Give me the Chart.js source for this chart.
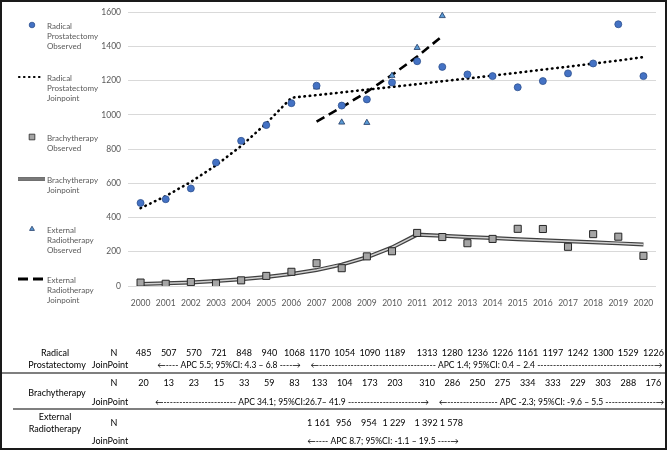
<!DOCTYPE html>
<html>
<head>
<meta charset="utf-8">
<script src="https://cdn.jsdelivr.net/npm/chart.js@4.4.1/dist/chart.umd.min.js"></script>
<style>
  html, body { margin: 0; padding: 0; background: #fff; }
  #wrap { width: 670px; height: 451px; position: relative; }
</style>
</head>
<body>
<div id="wrap"><canvas id="chart" width="670" height="451"></canvas></div>
<script>
// ---- data ----
const years = ['2000','2001','2002','2003','2004','2005','2006','2007','2008','2009','2010',
               '2011','2012','2013','2014','2015','2016','2017','2018','2019','2020'];
const yTicks = [0, 200, 400, 600, 800, 1000, 1200, 1400, 1600];

const rpObserved  = [485, 507, 570, 721, 848, 940, 1068, 1170, 1054, 1090, 1189, 1313, 1280, 1236, 1226, 1161, 1197, 1242, 1300, 1529, 1226];
const rpJoinpoint = [455, 525, 608, 705, 818, 950, 1100, 1115, 1131, 1147, 1163, 1179, 1196, 1212, 1229, 1246, 1264, 1281, 1299, 1317, 1337];
const brObserved  = [20, 13, 23, 15, 33, 59, 83, 133, 104, 173, 203, 310, 286, 250, 275, 334, 333, 229, 303, 288, 176];
const brJoinpoint = [12, 16, 21, 29, 39, 52, 70, 93, 125, 168, 225, 300, 293, 286, 280, 273, 267, 261, 255, 249, 243];
const exObserved  = [null, null, null, null, null, null, null, 1161, 956, 954, 1229, 1392, 1578, null, null, null, null, null, null, null, null];
const exJoinpoint = [null, null, null, null, null, null, null, 960, 1044, 1134, 1233, 1340, 1460, null, null, null, null, null, null, null, null];

const legendNames = [
  ['Radical', 'Prostatectomy', 'Observed'],
  ['Radical', 'Prostatectomy', 'Joinpoint'],
  ['Brachytherapy', 'Observed'],
  ['Brachytherapy', 'Joinpoint'],
  ['External', 'Radiotherapy', 'Observed'],
  ['External', 'Radiotherapy', 'Joinpoint']
];
const groupNames = [['Radical', 'Prostatectomy'], ['Brachytherapy'], ['External', 'Radiotherapy']];
const rowNames = ['N', 'JoinPoint'];
const rpApc = ['APC 5.5; 95%CI: 4.3 \u2013 6.8', 'APC 1.4; 95%CI: 0.4 \u2013 2.4'];
const brApc = ['APC 34.1; 95%CI:26.7\u2013 41.9', 'APC -2.3; 95%CI: -9.6 \u2013 5.5'];
const exApc = ['APC 8.7; 95%CI: -1.1 \u2013 19.5'];

// ---- styling ----
const FONT = 'Lato, "Open Sans", sans-serif';
const GREY_TXT = '#595959';
const BLUE = '#4472C4', BLUE_EDGE = '#2F528F';
const TRI = '#5B9BD5', TRI_EDGE = '#1F3864';
const SQ = '#A5A5A5', SQ_EDGE = '#262626';

function fmtSpace(v) {
  const s = String(v);
  return s.length > 3 ? s.slice(0, s.length - 3) + ' ' + s.slice(-3) : s;
}

// hyphen-filled arrow label spanning x0..x1
function arrowText(ctx, label, x0, x1, y) {
  const total = x1 - x0;
  const core = ' ' + label + ' ';
  const wCore = ctx.measureText(core).width;
  const wArrow = ctx.measureText('\u2190').width;
  const wDash = ctx.measureText('-').width;
  const side = (total - wCore - 2 * wArrow) / 2;
  const n = Math.max(0, Math.round(side / wDash));
  const str = '\u2190' + '-'.repeat(n) + core + '-'.repeat(n) + '\u2192';
  ctx.textAlign = 'center';
  ctx.fillText(str, (x0 + x1) / 2, y);
}

const extrasPlugin = {
  id: 'extras',
  afterDraw(chart) {
    const ctx = chart.ctx;
    const xs = chart.scales.x;
    ctx.save();

    // outer frame
    ctx.strokeStyle = '#1a1a1a';
    ctx.lineWidth = 2;
    ctx.strokeRect(1, 1, 665, 448);

    // ---- legend on the left ----
    const legY = [25, 77, 137, 179, 229, 279];
    ctx.font = '8px ' + FONT;
    ctx.fillStyle = GREY_TXT;
    ctx.textAlign = 'left';
    ctx.textBaseline = 'middle';
    legendNames.forEach((lines, i) => {
      lines.forEach((t, k) => ctx.fillText(t, 47, legY[i] + 1 + k * 10));
    });
    // symbols
    const drawSym = (style, r, bg, edge, y) => {
      ctx.save();
      ctx.fillStyle = bg; ctx.strokeStyle = edge; ctx.lineWidth = 0.8;
      Chart.helpers.drawPoint(ctx, { pointStyle: style, radius: r, borderWidth: 0.8 }, 32, y);
      ctx.restore();
    };
    drawSym('circle', 2.8, BLUE, BLUE_EDGE, legY[0]);
    drawSym('rect', 4, SQ, SQ_EDGE, legY[2]);
    drawSym('triangle', 2.8, TRI, TRI_EDGE, legY[4]);
    ctx.save();
    ctx.lineCap = 'round';
    ctx.strokeStyle = '#000';
    ctx.lineWidth = 2.2;
    ctx.setLineDash([0.5, 4.5]);
    ctx.beginPath(); ctx.moveTo(19, legY[1]); ctx.lineTo(44, legY[1]); ctx.stroke();
    ctx.lineCap = 'butt';
    ctx.setLineDash([]);
    ctx.strokeStyle = '#404040'; ctx.lineWidth = 3.5;
    ctx.beginPath(); ctx.moveTo(18, legY[3]); ctx.lineTo(45, legY[3]); ctx.stroke();
    ctx.strokeStyle = '#8c8c8c'; ctx.lineWidth = 1.5;
    ctx.beginPath(); ctx.moveTo(18, legY[3]); ctx.lineTo(45, legY[3]); ctx.stroke();
    ctx.strokeStyle = '#000'; ctx.lineWidth = 3;
    ctx.setLineDash([10, 5]);
    ctx.beginPath(); ctx.moveTo(18, legY[5]); ctx.lineTo(44, legY[5]); ctx.stroke();
    ctx.restore();

    // ---- table below the chart ----
    const colX = i => xs.getPixelForValue(i) + (i >= 11 ? 10 : 3);
    ctx.fillStyle = '#000';
    ctx.font = '9px ' + FONT;
    ctx.textBaseline = 'middle';

    // group names
    ctx.textAlign = 'center';
    ctx.fillText(groupNames[0][0], 55, 353);
    ctx.fillText(groupNames[0][1], 57, 365);
    ctx.fillText(groupNames[1][0], 57, 393);
    ctx.fillText(groupNames[2][0], 55, 417);
    ctx.fillText(groupNames[2][1], 55, 429);

    // row names
    const rowY = [[353, 365], [383, 402], [423, 441]];
    rowY.forEach(([yn, yj]) => {
      ctx.textAlign = 'center';
      ctx.fillText(rowNames[0], 114, yn);
      ctx.fillText(rowNames[1], 110, yj);
    });

    // N values
    ctx.textAlign = 'center';
    rpObserved.forEach((v, i) => ctx.fillText(String(v), colX(i), rowY[0][0]));
    brObserved.forEach((v, i) => ctx.fillText(String(v), colX(i), rowY[1][0]));
    exObserved.forEach((v, i) => { if (v !== null) ctx.fillText(fmtSpace(v), colX(i) - 1, rowY[2][0]); });

    // joinpoint arrows
    ctx.font = '8.5px ' + FONT;
    arrowText(ctx, rpApc[0], 156, 302, rowY[0][1]);
    arrowText(ctx, rpApc[1], 310, 663, rowY[0][1]);
    arrowText(ctx, brApc[0], 156, 428, rowY[1][1]);
    arrowText(ctx, brApc[1], 440, 663, rowY[1][1]);
    arrowText(ctx, exApc[0], 308, 458, rowY[2][1]);

    // separators
    ctx.strokeStyle = '#000';
    ctx.lineWidth = 1.2;
    ctx.beginPath(); ctx.moveTo(2, 373); ctx.lineTo(665, 373); ctx.stroke();
    ctx.beginPath(); ctx.moveTo(13, 409); ctx.lineTo(665, 409); ctx.stroke();

    ctx.restore();
  }
};

const ctx = document.getElementById('chart');
new Chart(ctx, {
  type: 'line',
  data: {
    labels: years,
    datasets: [
      { label: 'Radical Prostatectomy Observed', data: rpObserved, showLine: false, order: 0,
        pointStyle: 'circle', pointRadius: 3.5, pointBackgroundColor: BLUE, pointBorderColor: BLUE_EDGE, pointBorderWidth: 0.8 },
      { label: 'Brachytherapy Observed', data: brObserved, showLine: false, order: 0,
        pointStyle: 'rect', pointRadius: 5, pointBackgroundColor: SQ, pointBorderColor: SQ_EDGE, pointBorderWidth: 1 },
      { label: 'External Radiotherapy Observed', data: exObserved, showLine: false, order: 0,
        pointStyle: 'triangle', pointRadius: 3.5, pointBackgroundColor: TRI, pointBorderColor: TRI_EDGE, pointBorderWidth: 0.8 },
      { label: 'Radical Prostatectomy Joinpoint', data: rpJoinpoint, order: 1, pointRadius: 0,
        borderColor: '#000', borderWidth: 2.6, borderDash: [0.5, 4.8], borderCapStyle: 'round', fill: false },
      { label: 'Brachytherapy Joinpoint (inner)', data: brJoinpoint, order: 1, pointRadius: 0,
        borderColor: '#d0d0d0', borderWidth: 1.5, fill: false },
      { label: 'Brachytherapy Joinpoint', data: brJoinpoint, order: 2, pointRadius: 0,
        borderColor: '#404040', borderWidth: 4, fill: false },
      { label: 'External Radiotherapy Joinpoint', data: exJoinpoint, order: 1, pointRadius: 0,
        borderColor: '#000', borderWidth: 2.6, borderDash: [9, 5], fill: false, spanGaps: false }
    ]
  },
  options: {
    responsive: false,
    animation: false,
    devicePixelRatio: 1,
    layout: { padding: { left: 0, top: 12, right: 14, bottom: 0 } },
    plugins: { legend: { display: false }, tooltip: { enabled: false } },
    scales: {
      x: {
        offset: true,
        grid: { display: false },
        border: { display: false },
        ticks: { color: GREY_TXT, font: { family: FONT, size: 8.5 }, padding: 4, maxRotation: 0, autoSkip: false },
        afterFit: s => { s.height = 165; }
      },
      y: {
        min: 0, max: 1600,
        afterBuildTicks: s => { s.ticks = yTicks.map(v => ({ value: v })); },
        grid: { color: '#d9d9d9', lineWidth: 1, drawTicks: false },
        border: { display: false },
        ticks: { color: GREY_TXT, font: { family: FONT, size: 8.5 }, padding: 7, callback: v => v },
        afterFit: s => { s.width = 128; }
      }
    }
  },
  plugins: [extrasPlugin]
});
</script>
</body>
</html>
